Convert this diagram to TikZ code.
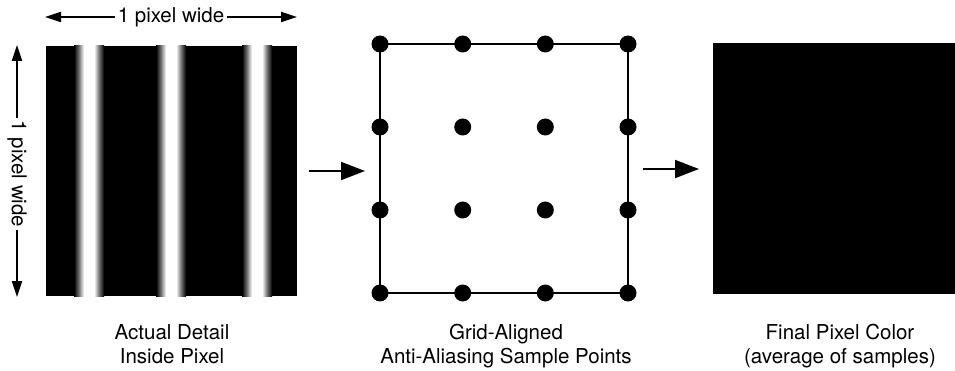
\documentclass[tikz,border=0pt]{standalone}
\usepackage{fontspec}
\setmainfont{TeX Gyre Heros}
\usetikzlibrary{arrows.meta}
\begin{document}
\begin{tikzpicture}[x=1pt,y=-1pt,
  lbl/.style={font=\fontsize{20.5}{24}\selectfont, inner sep=0pt, anchor=base},
  dimlbl/.style={font=\fontsize{20.5}{24}\selectfont, fill=white, inner sep=2.5pt},
  dimarrow/.style={line width=1.8pt, {Triangle[length=16pt,width=10pt]}-{Triangle[length=16pt,width=10pt]}},
  flowarrow/.style={line width=1.8pt, -{Triangle[length=24pt,width=18pt]}},
  dot/.style={circle, fill=black, minimum size=17pt, inner sep=0pt}]
\useasboundingbox (0,0) rectangle (955,371);

% --- left panel: actual detail ---
\fill[black] (46,46) rectangle (297,296);
\foreach \c in {89,171,257}{
  \shade[left color=black, right color=black!45!white] (\c-15,46) rectangle (\c-9,296);
  \shade[left color=black!45!white, right color=white] (\c-9.2,46) rectangle (\c-5,296);
  \fill[white] (\c-5.2,46) rectangle (\c+5.2,296);
  \shade[left color=white, right color=black!45!white] (\c+5,46) rectangle (\c+9.2,296);
  \shade[left color=black!45!white, right color=black] (\c+9,46) rectangle (\c+15,296);
}
\coordinate (detail) at (171,171);

% dimension arrows
\coordinate (hl) at (45,17);
\coordinate (hr) at (297,17);
\draw[dimarrow] (hl) -- (hr);
\node[dimlbl] (htext) at (171,17) {1 pixel wide};
\coordinate (vt) at (17,45);
\coordinate (vb) at (17,297);
\draw[dimarrow] (vt) -- (vb);
\node[dimlbl, rotate=-90] (vtext) at (17,174) {1 pixel wide};

% --- middle panel: sample grid ---
\draw[line width=1.6pt] (380,44) rectangle (628,293);
\foreach \i/\x in {0/380,1/462.7,2/545.3,3/628}{
  \foreach \j/\y in {0/44,1/127,2/210,3/293}{
    \node[dot] (d\i\j) at (\x,\y) {};
  }
}

% --- right panel: final colour ---
\fill[black] (713,43) rectangle (955,294);

% flow arrows
\coordinate (a1s) at (309,171);
\coordinate (a1e) at (365,171);
\draw[flowarrow] (a1s) -- (a1e);
\coordinate (a2s) at (643,169);
\coordinate (a2e) at (699,169);
\draw[flowarrow] (a2s) -- (a2e);

% labels
\node[lbl] (l1a) at (172,339) {Actual Detail};
\node[lbl] (l1b) at (172,363) {Inside Pixel};
\node[lbl] (l2a) at (506,339) {Grid-Aligned};
\node[lbl] (l2b) at (506,363) {Anti-Aliasing Sample Points};
\node[lbl] (l3a) at (840,339) {Final Pixel Color};
\node[lbl] (l3b) at (840,363) {(average of samples)};
\end{tikzpicture}
\end{document}
